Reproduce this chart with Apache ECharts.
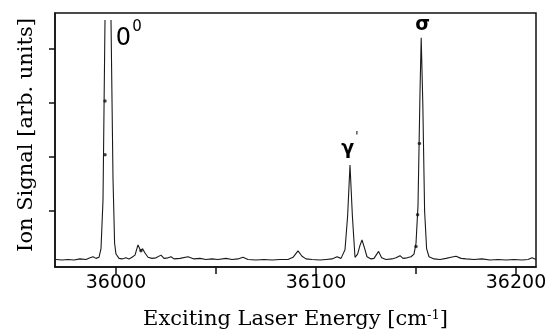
<!DOCTYPE html>
<html>
<head>
<meta charset="utf-8">
<script src="https://cdn.jsdelivr.net/npm/echarts@6/dist/echarts.min.js"></script>
<style>
  html, body { margin: 0; padding: 0; background: #fff; }
  #chart { width: 552px; height: 330px; }
</style>
</head>
<body>
<div id="chart"></div>
<script>
// Ion-yield spectrum: laser energy (cm^-1) vs ion signal (arb. units).
// A null signal value marks the place where the saturated origin band runs off scale.
const energy = [
  35970, 35973, 35976, 35979, 35982, 35985, 35987, 35988.5, 35990, 35991.5,
  35992.5, 35993.5, 35994.5, 35996, 35997.5, 35998.5, 35999.3, 36000, 36001.5, 36003,
  36005, 36006.5, 36008, 36009.5, 36011, 36012.3, 36013.3, 36014.5, 36016, 36018,
  36020, 36022.5, 36024, 36026, 36027.5, 36029, 36032, 36036, 36039, 36042,
  36045, 36048, 36051, 36055, 36058, 36061, 36063.5, 36066, 36070, 36074,
  36078, 36082, 36086, 36088.5, 36091, 36093, 36095, 36098, 36102, 36105,
  36108, 36110.5, 36112.5, 36114.5, 36115.8, 36117, 36118.2, 36119.5, 36120.8, 36122,
  36123, 36124.2, 36125.5, 36127.5, 36129, 36131.3, 36132.8, 36135, 36138, 36140,
  36142, 36143.5, 36145.5, 36147.5, 36149, 36150, 36151, 36152, 36152.6, 36153.4,
  36154.3, 36155.3, 36156.5, 36159, 36162, 36165, 36167.5, 36170, 36172.5, 36175,
  36179, 36183, 36187, 36191, 36195, 36199, 36203, 36206, 36208, 36210
];
const signal = [
  0.10, 0.09, 0.10, 0.09, 0.11, 0.10, 0.13, 0.15, 0.12, 0.14,
  0.30, 1.20, 4.54, null, 4.54, 1.60, 0.40, 0.20, 0.12, 0.11,
  0.13, 0.11, 0.14, 0.18, 0.37, 0.26, 0.30, 0.22, 0.14, 0.12,
  0.13, 0.18, 0.12, 0.13, 0.15, 0.11, 0.12, 0.15, 0.11, 0.12,
  0.10, 0.11, 0.10, 0.12, 0.10, 0.11, 0.14, 0.10, 0.09, 0.10,
  0.09, 0.10, 0.10, 0.14, 0.26, 0.16, 0.11, 0.10, 0.09, 0.10,
  0.11, 0.15, 0.12, 0.28, 0.90, 1.85, 0.90, 0.14, 0.20, 0.36,
  0.46, 0.32, 0.15, 0.11, 0.12, 0.25, 0.13, 0.10, 0.11, 0.13,
  0.17, 0.12, 0.13, 0.15, 0.20, 0.40, 1.10, 3.20, 4.21, 3.00,
  1.00, 0.30, 0.15, 0.11, 0.10, 0.12, 0.14, 0.16, 0.12, 0.11,
  0.10, 0.11, 0.09, 0.10, 0.09, 0.10, 0.09, 0.10, 0.13, 0.10
];

// Individual recorded points shown as dots on the strong bands
const dotEnergy = [35994.5, 35994.5, 36012.5, 36150.0, 36150.8, 36151.7];
const dotSignal = [3.04, 2.04, 0.26, 0.34, 0.93, 2.25];

// Band assignments
const bandText = ['0', '0', 'γ', '\'', 'σ'];
const bandEnergy = [36003.7, 36010.5, 36115.8, 36120.5, 36153.3];
const bandSignal = [4.20, 4.40, 2.15, 2.38, 4.45];
const bandSize = [24, 15, 19, 12, 19];
const bandWeight = ['normal', 'normal', 'bold', 'normal', 'bold'];

// Axis ticks
const xTicks = [36000, 36050, 36100, 36150, 36200];
const xLabels = [36000, 36100, 36200];
const yTicks = [1, 2, 3, 4];

const spectrum = energy.map((e, i) => [e, signal[i] === null ? '-' : signal[i]]);
const dots = dotEnergy.map((e, i) => [e, dotSignal[i]]);
const bands = bandEnergy.map((e, i) => ({
  value: [e, bandSignal[i]],
  label: {
    show: true,
    formatter: bandText[i],
    position: 'inside',
    fontSize: bandSize[i],
    fontWeight: bandWeight[i],
    fontFamily: 'DejaVu Sans',
    color: '#000',
    opacity: 1,
    textBorderWidth: 0
  }
}));

const chart = echarts.init(document.getElementById('chart'), null, { renderer: 'canvas' });
chart.setOption({
  animation: false,
  backgroundColor: '#fff',
  grid: {
    left: 55, right: 16, top: 13, bottom: 63,
    containLabel: false,
    outerBoundsMode: 'none',
    show: true, borderColor: '#111', borderWidth: 1.5, backgroundColor: 'transparent'
  },
  xAxis: {
    type: 'value',
    min: 35969.5,
    max: 36210,
    name: 'Exciting Laser Energy [cm{s|-1}]',
    nameLocation: 'middle',
    nameGap: 42,
    nameTextStyle: {
      fontFamily: 'DejaVu Serif', fontSize: 21, color: '#000',
      rich: { s: { fontFamily: 'DejaVu Serif', fontSize: 13, color: '#000', verticalAlign: 'top', padding: [0, 0, 9, 0] } }
    },
    axisLine: { show: true, onZero: false, lineStyle: { color: '#111', width: 1.5 } },
    axisTick: { show: true, inside: false, length: 7, customValues: xTicks, lineStyle: { color: '#111', width: 1.5 } },
    axisLabel: {
      customValues: xLabels, margin: 7, fontFamily: 'DejaVu Sans', fontSize: 19, color: '#000',
      formatter: v => String(v)
    },
    splitLine: { show: false }
  },
  yAxis: {
    type: 'value',
    min: -0.04,
    max: 4.67,
    name: 'Ion Signal [arb. units]',
    nameLocation: 'middle',
    nameGap: 18,
    nameTextStyle: { fontFamily: 'DejaVu Serif', fontSize: 21, color: '#000', padding: [0, 0, 0, 10] },
    axisLine: { show: true, onZero: false, lineStyle: { color: '#111', width: 1.5 } },
    axisTick: { show: true, inside: false, length: 6, customValues: yTicks, lineStyle: { color: '#111', width: 1.5 } },
    axisLabel: { show: false },
    splitLine: { show: false }
  },
  series: [
    {
      type: 'line',
      data: spectrum,
      showSymbol: false,
      connectNulls: false,
      lineStyle: { color: '#1a1a1a', width: 1.1 },
      z: 3
    },
    {
      type: 'scatter',
      data: dots,
      symbolSize: 3.5,
      itemStyle: { color: '#111' },
      z: 4
    },
    {
      type: 'scatter',
      data: bands,
      symbolSize: 1,
      itemStyle: { color: 'rgba(0,0,0,0)' },
      z: 5
    }
  ]
});
</script>
</body>
</html>
